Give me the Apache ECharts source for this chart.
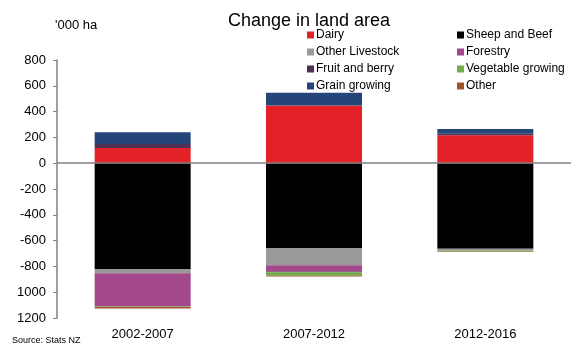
<!DOCTYPE html>
<html>
<head>
<meta charset="utf-8">
<script src="https://cdn.jsdelivr.net/npm/echarts@6/dist/echarts.min.js"></script>
<style>
html,body{margin:0;padding:0;background:#fff;}
#c{width:573px;height:349px;}
</style>
</head>
<body>
<div id="c"></div>
<script>
var categories = ['2002-2007', '2007-2012', '2012-2016'];
var dairy          = [118, 447, 217];
var sheepAndBeef   = [-820, -657, -663];
var otherLivestock = [-34, -135, -15];
var forestry       = [-256, -48, 0];
var fruitAndBerry  = [31, -5, 12];
var vegetable      = [-4, -28, -8];
var grainGrowing   = [90, 100, 36];
var other          = [-12, -5, -3];
var yTicks      = [800, 600, 400, 200, 0, -200, -400, -600, -800, -1000, -1200];
var yTickLabels = ['800', '600', '400', '200', '0', '-200', '-400', '-600', '-800', '1000', '1200'];

var FONT = 'Liberation Sans, Arial, sans-serif';
var seriesDefs = [
  ['Dairy', dairy, '#E32227'],
  ['Sheep and Beef', sheepAndBeef, '#000000'],
  ['Other Livestock', otherLivestock, '#999999'],
  ['Forestry', forestry, '#A3488A'],
  ['Fruit and berry', fruitAndBerry, '#512E55'],
  ['Vegetable growing', vegetable, '#72AD4A'],
  ['Grain growing', grainGrowing, '#244578'],
  ['Other', other, '#A0522D']
];

var series = seriesDefs.map(function (d, i) {
  var s = {
    name: d[0], type: 'bar', stack: 'total', data: d[1],
    barWidth: 96,
    itemStyle: { color: d[2] },
    emphasis: { disabled: true }
  };
  if (i === 0) {
    s.markLine = {
      silent: true, symbol: 'none', label: { show: false },
      lineStyle: { color: '#808080', width: 1.5, type: 'solid' },
      data: [{ yAxis: 0 }]
    };
  }
  return s;
});

var legendCommon = {
  orient: 'vertical', itemWidth: 7, itemHeight: 7, itemGap: 3,
  icon: 'rect',
  textStyle: { fontFamily: FONT, fontSize: 12, color: '#000', lineHeight: 14, padding: [0, 0, 0, -3] }
};

var chart = echarts.init(document.getElementById('c'));
chart.setOption({
  animation: false,
  backgroundColor: '#fff',
  title: [
    { text: 'Change in land area', left: 223, top: 7,
      textStyle: { fontFamily: FONT, fontSize: 18, fontWeight: 'normal', color: '#000' } },
    { text: "'000 ha", left: 50, top: 14,
      textStyle: { fontFamily: FONT, fontSize: 13, fontWeight: 'normal', color: '#000' } },
    { text: 'Source: Stats NZ', left: 7, top: 331,
      textStyle: { fontFamily: FONT, fontSize: 9, fontWeight: 'normal', color: '#000' } }
  ],
  legend: [
    Object.assign({ left: 302, top: 23, data: ['Dairy', 'Other Livestock', 'Fruit and berry', 'Grain growing'] }, legendCommon),
    Object.assign({ left: 452, top: 23, data: ['Sheep and Beef', 'Forestry', 'Vegetable growing', 'Other'] }, legendCommon)
  ],
  grid: { left: 57, right: 2, top: 60, bottom: 31, containLabel: false },
  xAxis: {
    type: 'category', data: categories,
    axisLine: { show: false, onZero: false },
    axisTick: { show: false },
    axisLabel: { fontFamily: FONT, fontSize: 13, color: '#000', margin: 10 }
  },
  yAxis: {
    type: 'value', min: -1200, max: 800, interval: 200,
    axisLine: { show: true, lineStyle: { color: '#808080', width: 1.5 } },
    axisTick: { show: true, length: 4, inside: false, lineStyle: { color: '#808080' } },
    splitLine: { show: false },
    axisLabel: {
      fontFamily: FONT, fontSize: 13, color: '#000', margin: 11,
      formatter: function (v) {
        var i = yTicks.indexOf(v);
        return i >= 0 ? yTickLabels[i] : String(v);
      }
    }
  },
  series: series
});
</script>
</body>
</html>
